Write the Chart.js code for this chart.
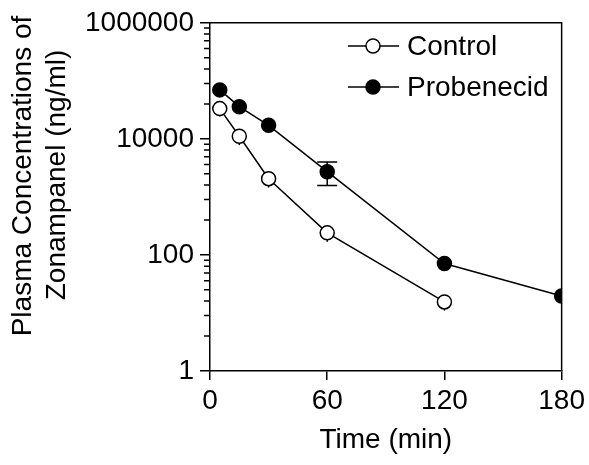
<!DOCTYPE html>
<html><head><meta charset="utf-8">
<script src="https://cdn.jsdelivr.net/npm/chart.js@4/dist/chart.umd.min.js"></script>
<style>html,body{margin:0;padding:0;background:#fff}#wrap{width:589px;height:465px;position:relative}</style>
</head><body><div id="wrap"><canvas id="c" width="589" height="465"></canvas></div>
<script>
// ---- data ----
const timesControl = [5, 15, 30, 60, 120];
const control = [33200, 11100, 2060, 240, 15.5];
const controlErrLow = [24300, 7800, 1450, 169, 11];
const controlErrHigh = [42100, 14400, 2670, 311, 20];

const timesProbenecid = [5, 15, 30, 60, 120, 180];
const probenecid = [69800, 35900, 17100, 2720, 71, 19.6];
const probenecidErrLow = [null, null, null, 1570, null, null];
const probenecidErrHigh = [null, null, null, 4000, null, null];

const xTicks = [0, 60, 120, 180];
const yMajorTicks = [1, 100, 10000, 1000000];
const yMinorBases = [1, 100, 10000];
const yMinorMultipliers = [4, 9, 16, 25, 36, 49, 64, 81];

const seriesLabels = ['Control', 'Probenecid'];
const xTitle = 'Time (min)';
const yTitleLines = ['Plasma Concentrations of', 'Zonampanel (ng/ml)'];

// ---- styling ----
const FONT = "'Liberation Sans', Arial, Helvetica, sans-serif";
const FS = 28;
const LW = 1.5;
const PR = 7;

const toPts = (xs, ys) => xs.map((x, i) => ({x, y: ys[i]}));

const extras = {
  id: 'extras',
  beforeDatasetsDraw(chart) {
    const ctx = chart.ctx, xs = chart.scales.x, ys = chart.scales.y;
    const sets = [
      {t: timesControl, lo: controlErrLow, hi: controlErrHigh, cap: 0},
      {t: timesProbenecid, lo: probenecidErrLow, hi: probenecidErrHigh, cap: 10}
    ];
    ctx.save();
    ctx.strokeStyle = '#000';
    ctx.lineWidth = LW;
    sets.forEach(s => {
      s.t.forEach((t, i) => {
        if (s.lo[i] == null) return;
        const x = xs.getPixelForValue(t);
        const y1 = ys.getPixelForValue(s.lo[i]);
        const y2 = ys.getPixelForValue(s.hi[i]);
        ctx.beginPath();
        ctx.moveTo(x, y1); ctx.lineTo(x, y2);
        if (s.cap) {
          ctx.moveTo(x - s.cap, y1); ctx.lineTo(x + s.cap, y1);
          ctx.moveTo(x - s.cap, y2); ctx.lineTo(x + s.cap, y2);
        }
        ctx.stroke();
      });
    });
    ctx.restore();
  },
  afterDraw(chart) {
    const ctx = chart.ctx, a = chart.chartArea, ys = chart.scales.y;
    ctx.save();
    ctx.strokeStyle = '#000';
    ctx.lineWidth = LW;
    // frame top and right
    ctx.beginPath();
    ctx.moveTo(a.left, a.top); ctx.lineTo(a.right, a.top); ctx.lineTo(a.right, a.bottom);
    ctx.stroke();
    // minor ticks
    ctx.beginPath();
    yMinorBases.forEach(b => yMinorMultipliers.forEach(m => {
      const y = ys.getPixelForValue(b * m);
      ctx.moveTo(a.left - 6, y); ctx.lineTo(a.left, y);
    }));
    ctx.stroke();
    // legend
    const rows = [46, 87];
    chart.data.datasets.forEach((ds, i) => {
      const y = rows[i];
      ctx.beginPath();
      ctx.moveTo(348, y); ctx.lineTo(399, y);
      ctx.stroke();
      ctx.beginPath();
      ctx.arc(373, y, PR, 0, Math.PI * 2);
      ctx.fillStyle = ds.pointBackgroundColor;
      ctx.fill();
      ctx.stroke();
      ctx.fillStyle = '#000';
      ctx.font = FS + 'px ' + FONT;
      ctx.textAlign = 'left';
      ctx.textBaseline = 'middle';
      ctx.fillText(ds.label, 407, y + 1);
    });
    // y title
    ctx.fillStyle = '#000';
    ctx.font = FS + 'px ' + FONT;
    ctx.textAlign = 'center';
    ctx.textBaseline = 'middle';
    const tx = [23, 57], ty = [176, 175];
    yTitleLines.forEach((line, i) => {
      ctx.save();
      ctx.translate(tx[i], ty[i]);
      ctx.rotate(-Math.PI / 2);
      ctx.fillText(line, 0, 0);
      ctx.restore();
    });
    ctx.restore();
  }
};

new Chart(document.getElementById('c'), {
  type: 'line',
  data: {
    datasets: [
      {label: seriesLabels[0], data: toPts(timesControl, control), borderColor: '#000', borderWidth: LW,
       pointRadius: PR, pointBorderWidth: LW, pointBackgroundColor: '#fff', pointBorderColor: '#000', tension: 0, fill: false},
      {label: seriesLabels[1], data: toPts(timesProbenecid, probenecid), borderColor: '#000', borderWidth: LW,
       pointRadius: PR, pointBorderWidth: LW, pointBackgroundColor: '#000', pointBorderColor: '#000', tension: 0, fill: false}
    ]
  },
  options: {
    responsive: false, animation: false, devicePixelRatio: 1,
    layout: {padding: {top: 18, right: 27, left: 0, bottom: 0}},
    plugins: {legend: {display: false}, tooltip: {enabled: false}},
    scales: {
      x: {
        type: 'linear', min: 0, max: 180,
        afterBuildTicks: s => { s.ticks = xTicks.map(v => ({value: v})); },
        ticks: {color: '#000', font: {family: FONT, size: FS}, padding: 4, maxRotation: 0, autoSkip: false},
        grid: {drawOnChartArea: false, drawTicks: true, tickLength: 9, color: '#000', lineWidth: LW},
        border: {color: '#000', width: LW},
        title: {display: true, text: xTitle, color: '#000', font: {family: FONT, size: FS}, padding: {top: 0, bottom: 8}},
        afterFit: s => { s.height = 94; }
      },
      y: {
        type: 'logarithmic', min: 1, max: 1000000,
        afterBuildTicks: s => { s.ticks = yMajorTicks.map(v => ({value: v})); },
        ticks: {color: '#000', font: {family: FONT, size: FS}, padding: 6, autoSkip: false, callback: v => String(v)},
        grid: {drawOnChartArea: false, drawTicks: true, tickLength: 10, color: '#000', lineWidth: LW},
        border: {color: '#000', width: LW},
        afterFit: s => { s.width = 210; }
      }
    }
  },
  plugins: [extras]
});
</script>
</body></html>
